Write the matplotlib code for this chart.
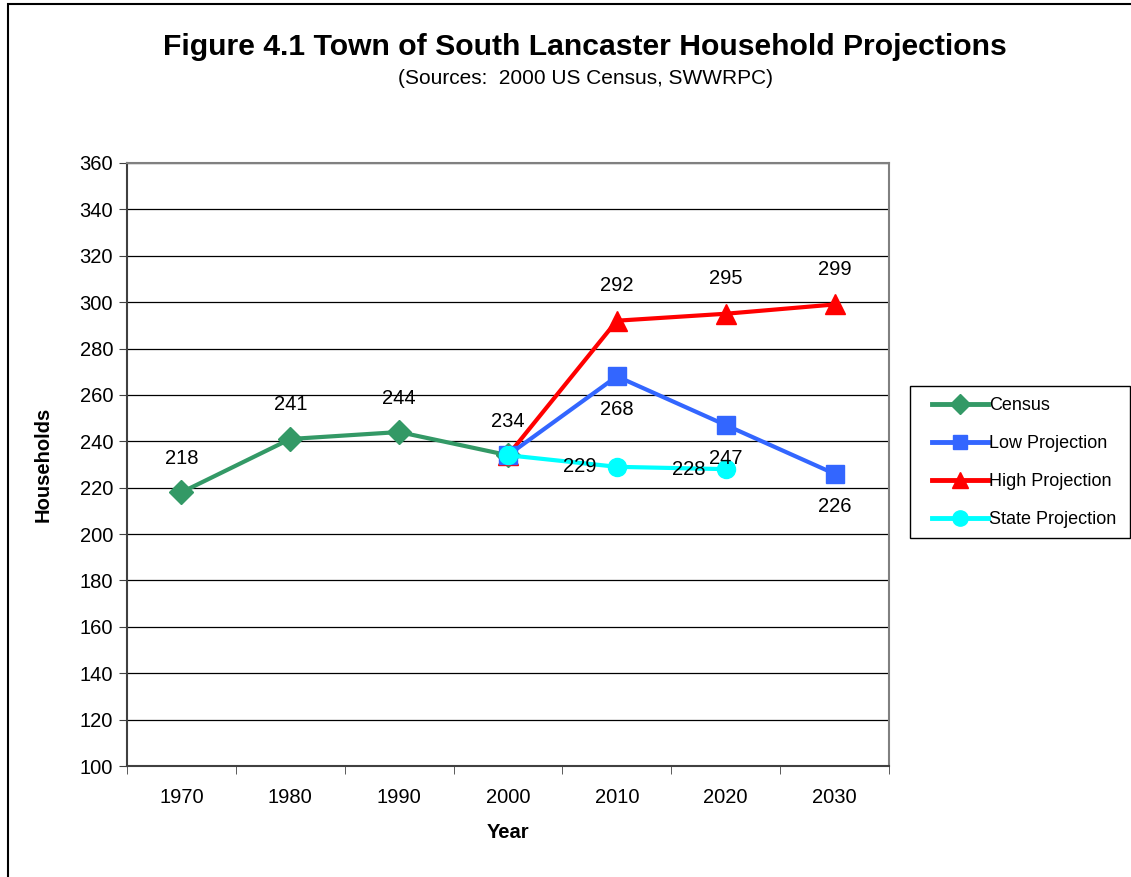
import matplotlib.pyplot as plt
from matplotlib.lines import Line2D
from matplotlib.patches import Rectangle

plt.rcParams['font.family'] = ['Liberation Sans', 'DejaVu Sans']

years = ["1970", "1980", "1990", "2000", "2010", "2020", "2030"]

census_years = ["1970", "1980", "1990", "2000"]
census = [218, 241, 244, 234]
low_years = ["2000", "2010", "2020", "2030"]
low = [234, 268, 247, 226]
high_years = ["2000", "2010", "2020", "2030"]
high = [234, 292, 295, 299]
state_years = ["2000", "2010", "2020"]
state = [234, 229, 228]

GREEN = "#339966"
BLUE = "#3366FF"
RED = "#FF0000"
CYAN = "#00FFFF"

W, H = 1131, 877


def xs(labels):
    return [years.index(y) for y in labels]


fig = plt.figure(figsize=(W / 100, H / 100), dpi=100)
ax = fig.add_axes([127 / W, 1 - 766 / H, 762 / W, 603 / H])

# outer border of the chart (cut off on the right and bottom like the original)
fig.patches.append(Rectangle((8 / W, -0.05), 1.1, 1 - 4 / H + 0.05,
                             transform=fig.transFigure, fill=False,
                             edgecolor="black", linewidth=1.5))

ax.plot(xs(census_years), census, color=GREEN, lw=3, marker="D", ms=12, zorder=3)
ax.plot(xs(high_years), high, color=RED, lw=3, marker="^", ms=15, zorder=4)
ax.plot(xs(low_years), low, color=BLUE, lw=3, marker="s", ms=13, zorder=5)
ax.plot(xs(state_years), state, color=CYAN, lw=3, marker="o", ms=13, zorder=6)

lbl = dict(fontsize=14.5, ha="center", va="center", zorder=7)
for x, v in zip(xs(census_years), census):
    ax.annotate(str(v), (x, v), xytext=(0, 34), textcoords="offset pixels", **lbl)
for x, v in zip(xs(high_years)[1:], high[1:]):
    ax.annotate(str(v), (x, v), xytext=(0, 35), textcoords="offset pixels", **lbl)
for x, v in zip(xs(low_years)[1:], low[1:]):
    ax.annotate(str(v), (x, v), xytext=(0, -33), textcoords="offset pixels", **lbl)
for x, v in zip(xs(state_years)[1:], state[1:]):
    ax.annotate(str(v), (x, v), xytext=(-37, 0), textcoords="offset pixels", **lbl)

ax.set_xlim(-0.5, len(years) - 0.5)
ax.set_ylim(100, 360)
ax.set_yticks(range(100, 361, 20))
ax.set_xticks(range(len(years)))
ax.set_xticklabels(years)
ax.set_xticks([i - 0.5 for i in range(len(years) + 1)], minor=True)
ax.tick_params(axis="x", which="major", length=0, pad=16, labelsize=14.5)
ax.tick_params(axis="x", which="minor", length=6, color="#404040", direction="out")
ax.tick_params(axis="y", length=6, color="#404040", direction="out", labelsize=14.5, pad=4)

ax.grid(axis="y", color="black", lw=0.9)
ax.set_axisbelow(True)
for s in ["top", "right"]:
    ax.spines[s].set_color("#808080")
    ax.spines[s].set_linewidth(1.5)
for s in ["left", "bottom"]:
    ax.spines[s].set_color("#404040")
    ax.spines[s].set_linewidth(1.5)

ax.set_xlabel("Year", fontsize=14.5, fontweight="bold", labelpad=11)
ax.set_ylabel("Households", fontsize=14.5, fontweight="bold", labelpad=19)

fig.text(585 / W, 1 - 47 / H, "Figure 4.1 Town of South Lancaster Household Projections",
         fontsize=21.7, fontweight="bold", ha="center", va="center")
fig.text(585 / W, 1 - 78 / H, "(Sources:  2000 US Census, SWWRPC)",
         fontsize=15, ha="center", va="center")

# legend frame drawn by hand, entries placed inside it
fig.patches.append(Rectangle((910 / W, 1 - 538 / H), 220 / W, 152 / H,
                             transform=fig.transFigure, fill=False,
                             edgecolor="black", linewidth=1.0))
handles = [
    Line2D([], [], color=GREEN, lw=3.5, marker="D", ms=10),
    Line2D([], [], color=BLUE, lw=3.5, marker="s", ms=10),
    Line2D([], [], color=RED, lw=3.5, marker="^", ms=11),
    Line2D([], [], color=CYAN, lw=3.5, marker="o", ms=11),
]
fig.legend(handles, ["Census", "Low Projection", "High Projection", "State Projection"],
           loc="upper left", bbox_to_anchor=(932 / W, 1 - 397 / H),
           fontsize=13, frameon=False,
           handlelength=3.1, handletextpad=0.05, labelspacing=1.17,
           borderpad=0, borderaxespad=0)

fig.savefig("out.png", dpi=100)
